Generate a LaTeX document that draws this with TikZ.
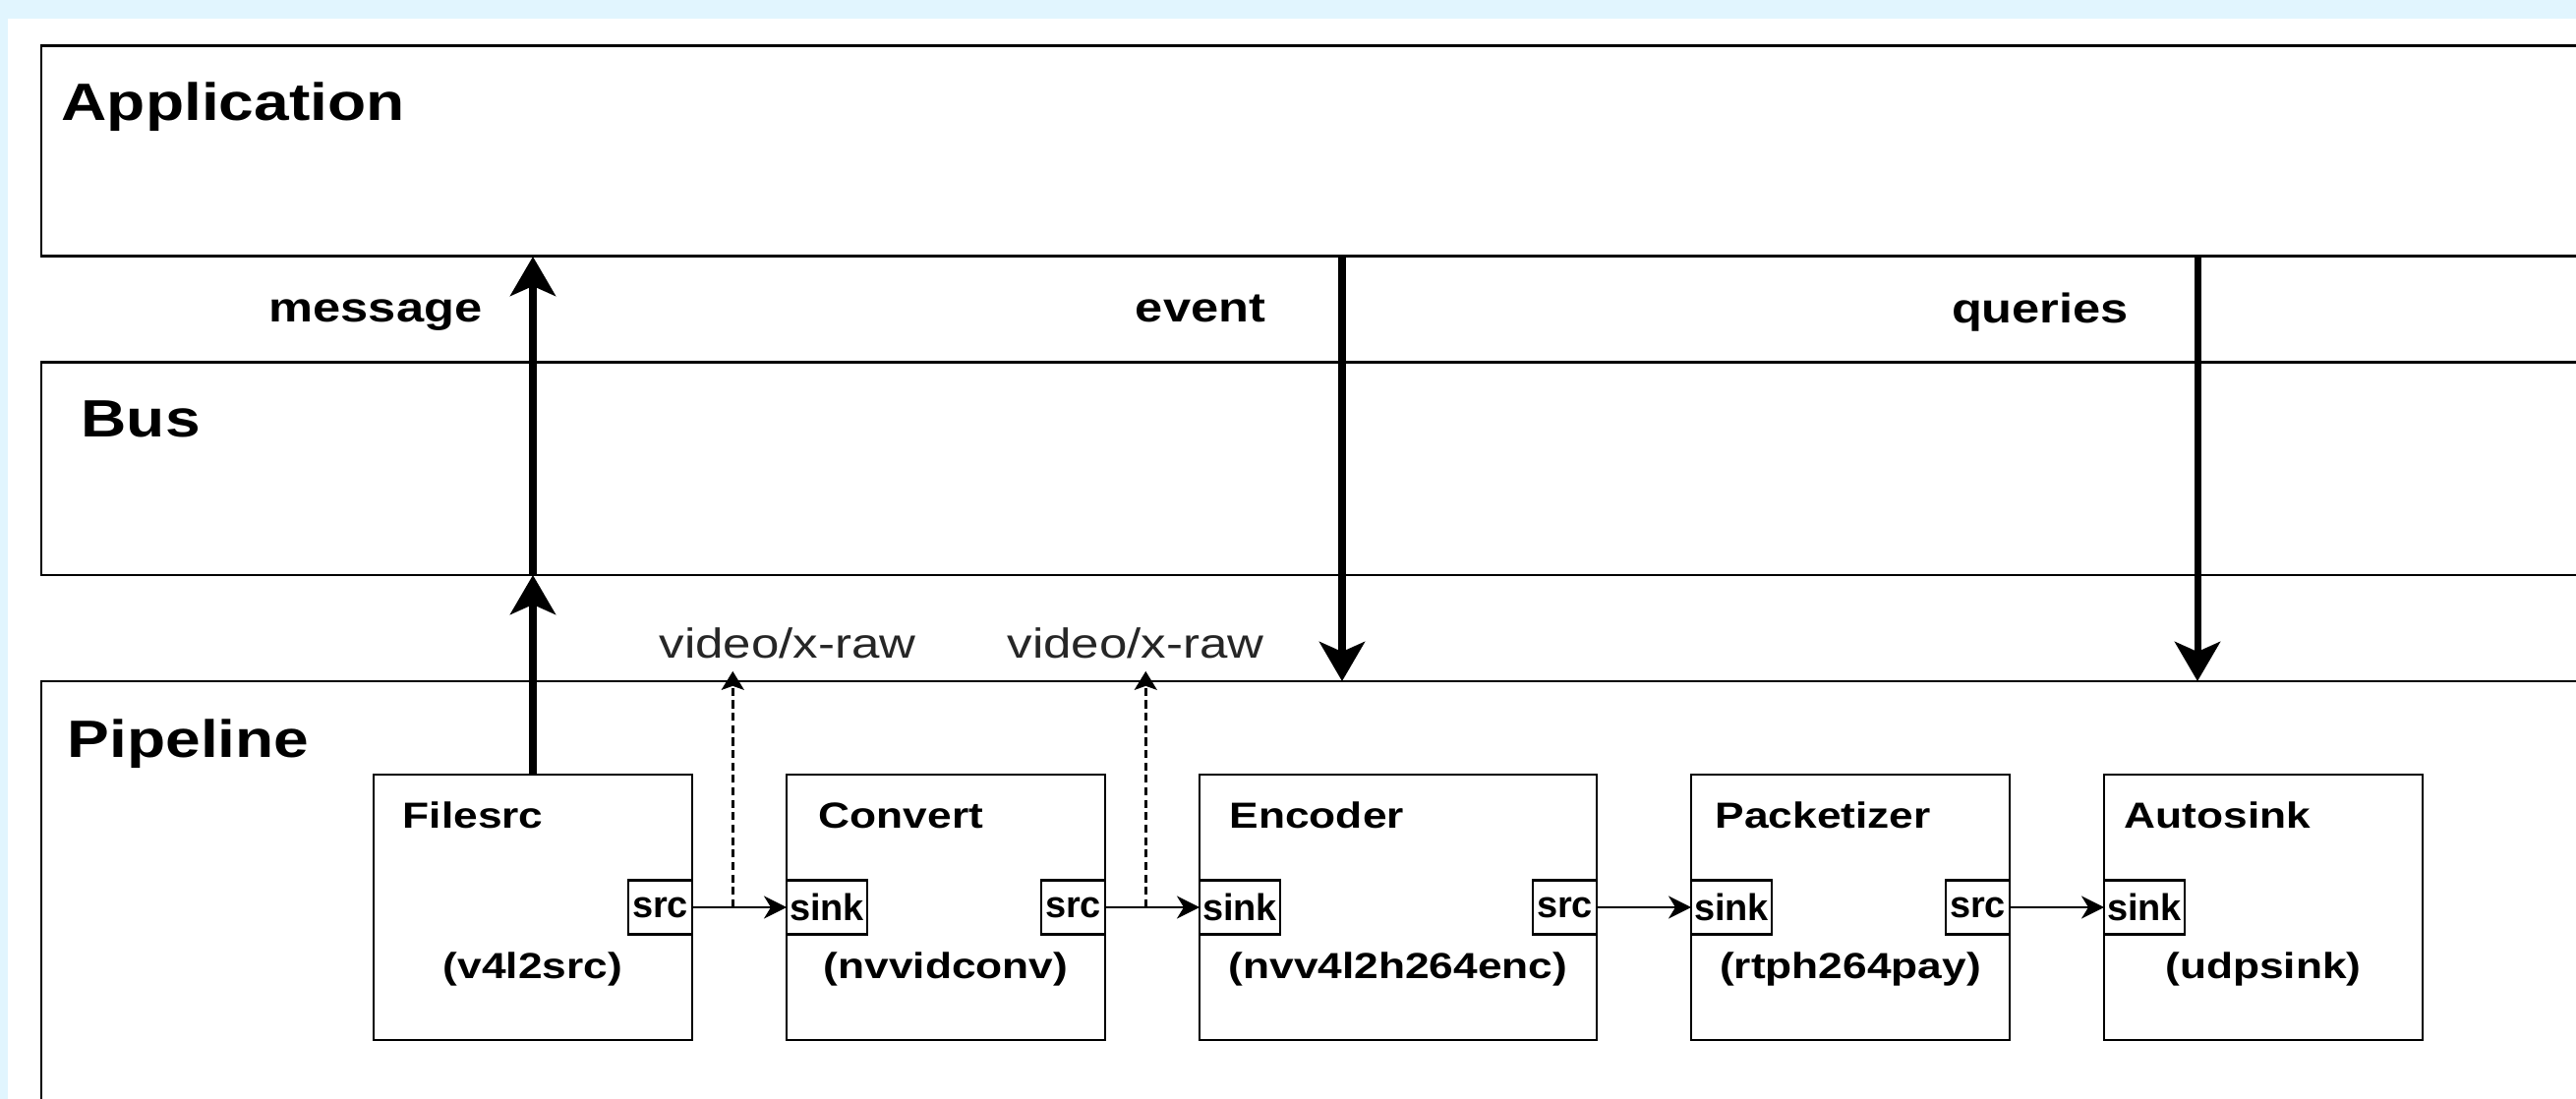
\documentclass[tikz,border=0pt]{standalone}
\usepackage{fontspec}
\setmainfont{Liberation Sans}[FakeStretch=1.2]
\newfontfamily\padfont{Liberation Sans}
\usetikzlibrary{arrows.meta,positioning,calc}
\definecolor{bgblue}{RGB}{225,245,254}

\tikzset{
  layer/.style={draw, line width=0.85pt, anchor=north west, minimum width=26cm, inner sep=0, outer sep=0},
  layertitle/.style={font=\bfseries\fontsize{15.2}{18}\selectfont, anchor=base west, inner sep=0},
  elem/.style={draw, line width=0.8pt, minimum height=2.7cm, minimum width=3.24cm, inner sep=0, outer sep=0},
  elemtitle/.style={font=\bfseries\fontsize{10.5}{12}\selectfont, anchor=base west, inner sep=0},
  elemsub/.style={font=\bfseries\fontsize{10.5}{12}\selectfont, anchor=base, inner sep=0},
  port/.style={draw, line width=0.6pt, minimum height=0.55cm, inner sep=0, outer sep=0, font=\padfont\bfseries\fontsize{10.8}{12}\selectfont},
  srcport/.style={port, minimum width=0.65cm, anchor=east},
  sinkport/.style={port, minimum width=0.82cm, anchor=west},
  flow/.style={-{Stealth[length=0.23cm,width=0.23cm,inset=0.07cm]}, line width=0.65pt},
  bigarrow/.style={-{Stealth[length=0.4cm,width=0.46cm,inset=0.1cm]}, line width=2pt},
  capsline/.style={-{Stealth[length=0.19cm,width=0.23cm,inset=0.04cm]}, line width=0.7pt, dash pattern=on 2.3pt off 1.3pt},
  caps/.style={font=\fontsize{12.1}{14}\selectfont, text=black!85, anchor=base},
  msglabel/.style={font=\bfseries\fontsize{12}{14}\selectfont, anchor=base},
}

\begin{document}
\begin{tikzpicture}
  \clip (0,0) rectangle (26.2,-11.18);
  \fill[bgblue] (0,0) rectangle (26.2,-11.18);
  \fill[white] (0.08,-0.19) rectangle (26.2,-11.18);

  % layers
  \node[layer, minimum height=2.14cm] (app) at (0.42,-0.47) {};
  \node[layer, minimum height=2.16cm] (bus) at (0.42,-3.69) {};
  \node[layer, minimum height=5cm] (pipe) at (0.42,-6.93) {};
  \node[layertitle] (apptitle) at (0.62,-1.23) {Application};
  \node[layertitle] (bustitle) at (0.82,-4.45) {Bus};
  \node[layertitle] (pipetitle) at (0.68,-7.71) {Pipeline};

  % elements
  \node[elem, anchor=north west] (filesrc) at (3.80,-7.88) {};
  \node[elem, right=0.96cm of filesrc] (convert) {};
  \node[elem, right=0.96cm of convert, minimum width=4.04cm] (encoder) {};
  \node[elem, right=0.96cm of encoder] (packetizer) {};
  \node[elem, right=0.96cm of packetizer] (autosink) {};

  \node[elemtitle] (filesrcname) at ([xshift=0.29cm,yshift=-0.55cm]filesrc.north west) {Filesrc};
  \node[elemtitle] (convertname) at ([xshift=0.32cm,yshift=-0.55cm]convert.north west) {Convert};
  \node[elemtitle] (encodername) at ([xshift=0.30cm,yshift=-0.55cm]encoder.north west) {Encoder};
  \node[elemtitle] (packetizername) at ([xshift=0.24cm,yshift=-0.55cm]packetizer.north west) {Packetizer};
  \node[elemtitle] (autosinkname) at ([xshift=0.20cm,yshift=-0.55cm]autosink.north west) {Autosink};

  \node[elemsub] (filesrcsub) at ([yshift=-0.73cm]filesrc.center) {(v4l2src)};
  \node[elemsub] (convertsub) at ([yshift=-0.73cm]convert.center) {(nvvidconv)};
  \node[elemsub] (encodersub) at ([yshift=-0.73cm]encoder.center) {(nvv4l2h264enc)};
  \node[elemsub] (packetizersub) at ([yshift=-0.73cm]packetizer.center) {(rtph264pay)};
  \node[elemsub] (autosinksub) at ([yshift=-0.73cm]autosink.center) {(udpsink)};

  % pads
  \node[srcport] (filesrcout) at (filesrc.east) {src};
  \node[sinkport] (convertin) at (convert.west) {sink};
  \node[srcport] (convertout) at (convert.east) {src};
  \node[sinkport] (encoderin) at (encoder.west) {sink};
  \node[srcport] (encoderout) at (encoder.east) {src};
  \node[sinkport] (packetizerin) at (packetizer.west) {sink};
  \node[srcport] (packetizerout) at (packetizer.east) {src};
  \node[sinkport] (autosinkin) at (autosink.west) {sink};

  \draw[flow] (filesrcout) -- (convertin);
  \draw[flow] (convertout) -- (encoderin);
  \draw[flow] (encoderout) -- (packetizerin);
  \draw[flow] (packetizerout) -- (autosinkin);

  % caps
  \coordinate (tap1) at ($(filesrcout.east)!0.43!(convertin.west)$);
  \coordinate (tap2) at ($(convertout.east)!0.43!(encoderin.west)$);
  \node[caps] (caps1) at (8.01,-6.70) {video/x-raw};
  \node[caps] (caps2) at (11.55,-6.70) {video/x-raw};
  \draw[capsline] (tap1) -- (tap1 |- caps1.south);
  \draw[capsline] (tap2) -- (tap2 |- caps2.south);

  % message, event, queries
  \draw[bigarrow] (filesrc.north) -- (filesrc.north |- bus.south);
  \draw[bigarrow] (filesrc.north |- bus.south) -- (filesrc.north |- app.south);
  \coordinate (eventx) at (13.65,0);
  \coordinate (queryx) at (22.35,0);
  \draw[bigarrow] (eventx |- app.south) -- (eventx |- pipe.north);
  \draw[bigarrow] (queryx |- app.south) -- (queryx |- pipe.north);
  \node[msglabel] (msg) at (3.82,-3.28) {message};
  \node[msglabel] (evt) at (12.21,-3.28) {event};
  \node[msglabel] (qry) at (20.75,-3.29) {queries};
\end{tikzpicture}
\end{document}
